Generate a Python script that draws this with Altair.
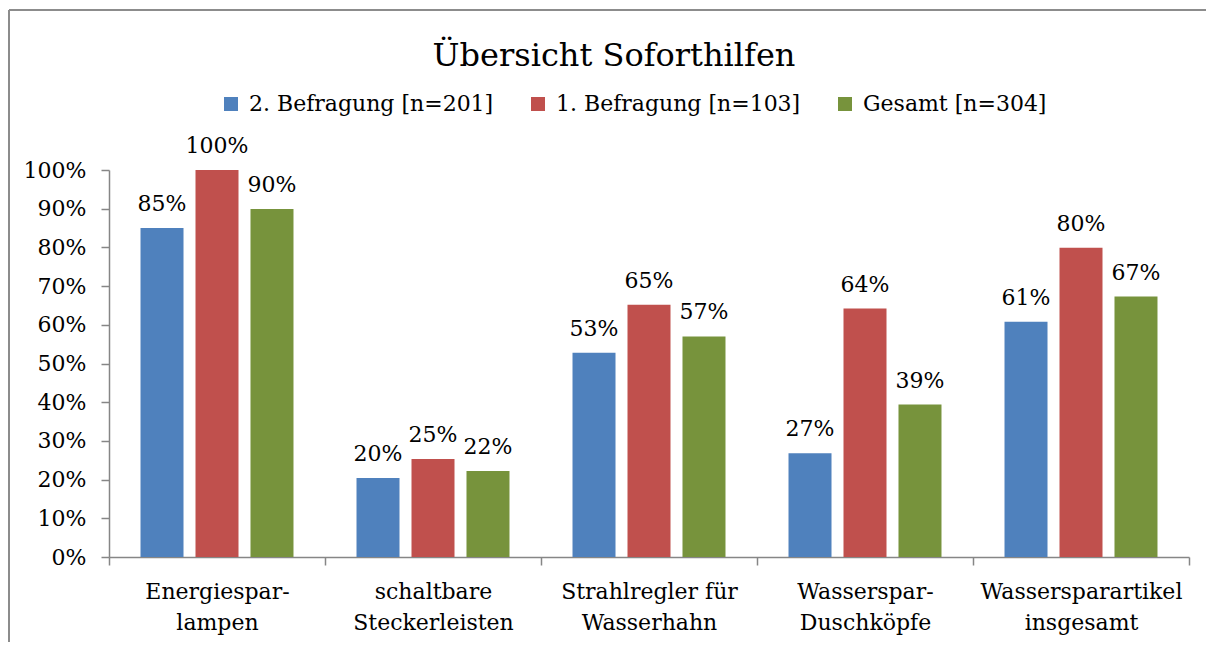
import altair as alt
import pandas as pd

categories = [
    "Energiespar-\nlampen",
    "schaltbare\nSteckerleisten",
    "Strahlregler für\nWasserhahn",
    "Wasserspar-\nDuschköpfe",
    "Wassersparartikel\ninsgesamt",
]
series = ["2. Befragung [n=201]", "1. Befragung [n=103]", "Gesamt [n=304]"]
colors = ["#4F81BD", "#C0504D", "#77933C"]
y_ticks = [0.0, 0.1, 0.2, 0.3, 0.4, 0.5, 0.6, 0.7, 0.8, 0.9, 1.0]

befragung2 = [0.850, 0.204, 0.528, 0.268, 0.608]
befragung1 = [1.000, 0.253, 0.652, 0.642, 0.799]
gesamt = [0.899, 0.222, 0.570, 0.394, 0.673]

rows = []
for s, vals in zip(series, [befragung2, befragung1, gesamt]):
    for c, v in zip(categories, vals):
        rows.append({"Kategorie": c, "Serie": s, "Wert": v})
df = pd.DataFrame(rows)

FONT = "DejaVu Serif"
W, H = 1080, 387

x_enc = alt.X(
    "Kategorie:N",
    sort=categories,
    scale=alt.Scale(paddingInner=0, paddingOuter=0),
    axis=alt.Axis(
        title=None,
        labelAngle=0,
        labelExpr="split(datum.label, '\\n')",
        labelLineHeight=31,
        labelPadding=16,
        labelLimit=400,
        tickBand="extent",
        tickSize=8,
        labelFontSize=22,
    ),
)
xoff_enc = alt.XOffset(
    "Serie:N",
    sort=series,
    scale=alt.Scale(paddingInner=0.218, paddingOuter=0.573),
)
y_enc = alt.Y(
    "Wert:Q",
    scale=alt.Scale(domain=[0, 1], nice=False),
    axis=alt.Axis(
        title=None,
        format=".0%",
        values=y_ticks,
        tickCount=11,
        tickSize=8,
        labelPadding=15,
        labelOverlap=False,
        grid=False,
        labelFontSize=22,
    ),
)

base = alt.Chart(df)

bars = base.mark_bar().encode(
    x=x_enc,
    xOffset=xoff_enc,
    y=y_enc,
    color=alt.Color(
        "Serie:N",
        sort=series,
        scale=alt.Scale(domain=series, range=colors),
        legend=alt.Legend(
            title=None,
            orient="none",
            legendX=111,
            legendY=-77,
            direction="horizontal",
            columns=3,
            columnPadding=33,
            symbolType="square",
            symbolSize=196,
            symbolStrokeWidth=0,
            labelFont=FONT,
            labelFontSize=22,
            labelOffset=7,
            labelLimit=500,
            labelColor="#000000",
            padding=0,
        ),
    ),
)

labels = base.mark_text(
    font=FONT, fontSize=22, baseline="alphabetic", dy=-17, color="#000000"
).encode(
    x=x_enc,
    xOffset=xoff_enc,
    y=y_enc,
    text=alt.Text("Wert:Q", format=".0%"),
)

frame_df = pd.DataFrame({"f": [1]})
frame_top = alt.Chart(frame_df).mark_rule(
    stroke="#8C8C8C", strokeWidth=2, clip=False
).encode(
    x=alt.value(-100),
    x2=alt.value(W + 17),
    y=alt.value(-160),
)
frame_left = alt.Chart(frame_df).mark_rule(
    stroke="#8C8C8C", strokeWidth=2, clip=False
).encode(
    x=alt.value(-100),
    y=alt.value(-160),
    y2=alt.value(H + 85),
)

chart = (
    alt.layer(bars, labels, frame_top, frame_left)
    .properties(
        width=W,
        height=H,
        autosize=alt.AutoSizeParams(type="none"),
        padding={"left": 101, "top": 162, "right": 17, "bottom": 85},
        title=alt.TitleParams(
            "Übersicht Soforthilfen",
            font=FONT,
            fontSize=32,
            fontWeight="normal",
            color="#000000",
            anchor="middle",
            baseline="alphabetic",
            dx=-35,
            dy=93,
        ),
    )
    .configure_view(stroke=None)
    .configure_axis(
        domainColor="#868686",
        tickColor="#868686",
        domainWidth=1.5,
        tickWidth=1.5,
        labelFont=FONT,
        labelColor="#000000",
    )
)

chart.save("out.html", embed_options={"renderer": "svg", "actions": False})
